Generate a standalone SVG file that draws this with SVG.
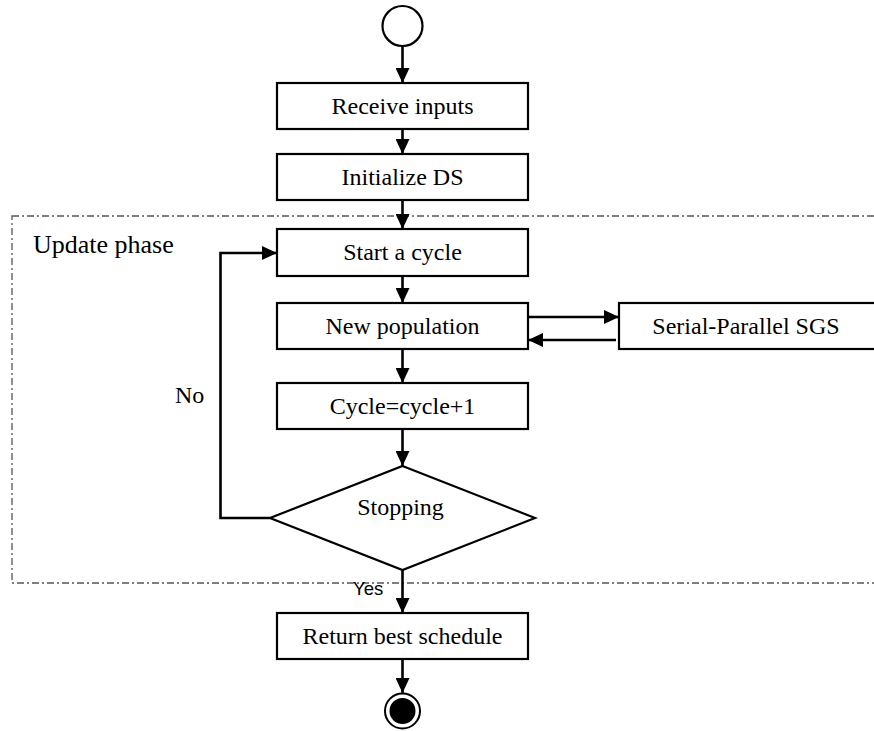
<svg xmlns="http://www.w3.org/2000/svg" width="874" height="731" viewBox="0 0 874 731">
<style>
.box{fill:#fff;stroke:#000;stroke-width:2.2}
.t{font-family:"Liberation Serif","Times New Roman",serif;font-size:24px;fill:#000;text-anchor:middle}
.c{fill:none;stroke:#000;stroke-width:2.6}
.frame{fill:none;stroke:#555;stroke-width:1.3;stroke-dasharray:7 3 2 3}
</style>
<defs>
<marker id="ah" markerUnits="userSpaceOnUse" markerWidth="16" markerHeight="14" refX="15" refY="7" orient="auto">
<path d="M0,0 L15,7 L0,14 Z" fill="#000"/>
</marker>
</defs>
<rect class="frame" x="12" y="216" width="880" height="367"/>
<text x="33" y="253" style="font-family:'Liberation Serif','Times New Roman',serif;font-size:26px">Update phase</text>
<g id="start"><circle cx="402.5" cy="26" r="20" fill="#fff" stroke="#000" stroke-width="2.2"/></g>
<g id="receive"><rect class="box" x="277" y="83" width="251" height="46"/><text class="t" x="402.5" y="114">Receive inputs</text></g>
<g id="init"><rect class="box" x="277" y="154" width="251" height="46"/><text class="t" x="402.5" y="185">Initialize DS</text></g>
<g id="cycle-start"><rect class="box" x="277" y="229" width="251" height="47"/><text class="t" x="402.5" y="260">Start a cycle</text></g>
<g id="newpop"><rect class="box" x="277" y="303" width="251" height="46"/><text class="t" x="402.5" y="334">New population</text></g>
<g id="sgs"><rect class="box" x="619" y="303" width="262" height="46"/><text class="t" x="746" y="334">Serial-Parallel SGS</text></g>
<g id="inc"><rect class="box" x="277" y="383" width="251" height="46"/><text class="t" x="402.5" y="414">Cycle=cycle+1</text></g>
<g id="stop"><polygon class="box" points="402.5,466 535,518 402.5,570 270,518"/><text class="t" x="400.5" y="515">Stopping</text></g>
<g id="ret"><rect class="box" x="277" y="613" width="251" height="46"/><text class="t" x="402.5" y="644">Return best schedule</text></g>
<g id="end"><circle cx="402.5" cy="711" r="17.5" fill="#fff" stroke="#000" stroke-width="2"/><circle cx="402.5" cy="711" r="13" fill="#000"/></g>
<g id="connectors">
<line class="c" x1="402.5" y1="46" x2="402.5" y2="83" marker-end="url(#ah)"/>
<line class="c" x1="402.5" y1="129" x2="402.5" y2="154" marker-end="url(#ah)"/>
<line class="c" x1="402.5" y1="200" x2="402.5" y2="229" marker-end="url(#ah)"/>
<line class="c" x1="402.5" y1="276" x2="402.5" y2="303" marker-end="url(#ah)"/>
<line class="c" x1="528" y1="317" x2="619" y2="317" marker-end="url(#ah)"/>
<line class="c" x1="616" y1="340" x2="528" y2="340" marker-end="url(#ah)"/>
<line class="c" x1="402.5" y1="349" x2="402.5" y2="383" marker-end="url(#ah)"/>
<line class="c" x1="402.5" y1="429" x2="402.5" y2="466" marker-end="url(#ah)"/>
<polyline class="c" points="270,518 220.5,518 220.5,253 277,253" marker-end="url(#ah)"/>
<line class="c" x1="402.5" y1="570" x2="402.5" y2="613" marker-end="url(#ah)"/>
<line class="c" x1="402.5" y1="659" x2="402.5" y2="693" marker-end="url(#ah)"/>
<text x="175" y="403" style="font-family:'Liberation Serif','Times New Roman',serif;font-size:24px">No</text>
<text x="353" y="595" style="font-family:'Liberation Sans',Arial,sans-serif;font-size:18.5px">Yes</text>
</g>
</svg>
